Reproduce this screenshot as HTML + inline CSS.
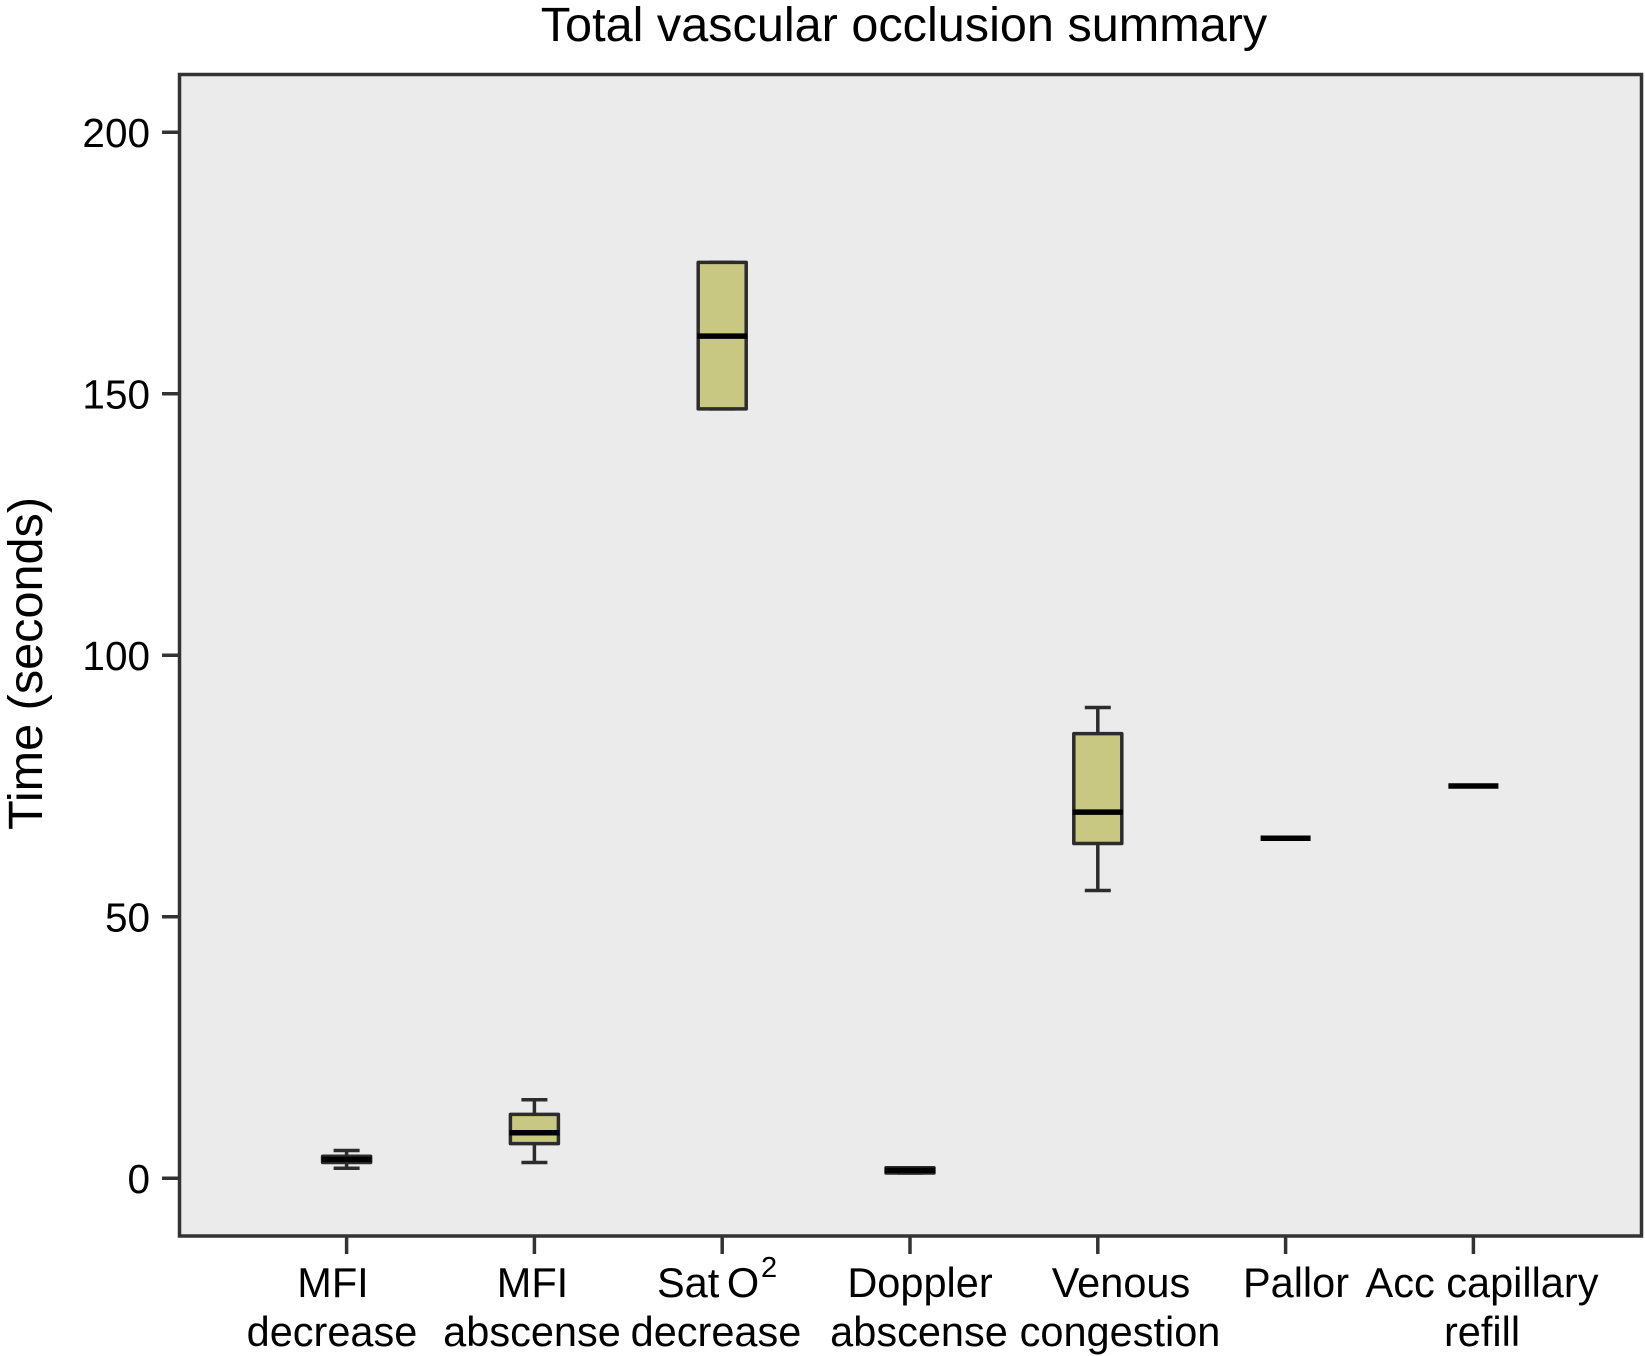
<!DOCTYPE html>
<html lang="en">
<head>
<meta charset="utf-8">
<title>Total vascular occlusion summary</title>
<style>
html,body{margin:0;padding:0;background:#fff;}
svg{display:block;font-family:"Liberation Sans",Arial,sans-serif;fill:#000;}
text{fill:#000;}
</style>
</head>
<body>
<svg id="chart" xmlns="http://www.w3.org/2000/svg" width="1645" height="1356" viewBox="0 0 1645 1356">
  <rect x="0" y="0" width="1645" height="1356" fill="#ffffff"/>
  <rect x="179.5" y="74.5" width="1462" height="1161.5" fill="#ebebeb" stroke="#333333" stroke-width="3.5"/>
  <text x="904" y="41" font-size="48.6" text-anchor="middle">Total vascular occlusion summary</text>
  <text transform="translate(42 663.5) rotate(-90)" font-size="48.6" text-anchor="middle">Time (seconds)</text>
  <g id="y-axis"></g>
  <g id="x-axis"></g>
  <g id="x-labels" font-size="41.5" text-anchor="middle">
    <text><tspan x="333" y="1297">MFI</tspan><tspan x="332" y="1346">decrease</tspan></text>
    <text><tspan x="532.5" y="1297">MFI</tspan><tspan x="532" y="1346">abscense</tspan></text>
    <text x="657" y="1297" text-anchor="start" word-spacing="-4">Sat O<tspan x="761" y="1277" font-size="29">2</tspan></text>
    <text x="716" y="1346">decrease</text>
    <text><tspan x="920" y="1297">Doppler</tspan><tspan x="919" y="1346">abscense</tspan></text>
    <text><tspan x="1121" y="1297">Venous</tspan><tspan x="1120" y="1346">congestion</tspan></text>
    <text x="1296" y="1297">Pallor</text>
    <text><tspan x="1482" y="1297">Acc capillary</tspan><tspan x="1482" y="1346">refill</tspan></text>
  </g>
  <g id="marks"></g>
</svg>
<script>
const categories = ["MFI decrease", "MFI abscense", "Sat O2 decrease", "Doppler abscense", "Venous congestion", "Pallor", "Acc capillary refill"];
const yTickValues = [0, 50, 100, 150, 200];
const whiskerLow = [1.9, 3, 147.1, 1, 55, 65, 75];
const quartile1 = [3, 6.6, 147.1, 1, 64, 65, 75];
const medians = [3.6, 8.7, 161, 1.5, 70, 65, 75];
const quartile3 = [4.2, 12.2, 175.1, 2, 85, 65, 75];
const whiskerHigh = [5.3, 15, 175.1, 2, 90, 65, 75];

const SVG_NS = "http://www.w3.org/2000/svg";
function yScale(v) { return 1178.2 - v * 5.23; }
function xScale(i) { return 346.6 + i * 187.8; }
function slug(s) { return s.toLowerCase().replace(/\s+/g, "-"); }
function make(tag, attrs, parent) {
  const el = document.createElementNS(SVG_NS, tag);
  for (const k in attrs) el.setAttribute(k, attrs[k]);
  parent.appendChild(el);
  return el;
}

const yAxis = document.getElementById("y-axis");
yTickValues.forEach(function (v) {
  const tick = make("line", {x1: 162, x2: 179, y1: yScale(v), y2: yScale(v), stroke: "#333333", "stroke-width": 3.5}, yAxis);
  
  
  const label = make("text", {x: 150, y: yScale(v) + 15, "font-size": 40.5, "text-anchor": "end"}, yAxis);
  
  
  label.textContent = String(v);
});

const xAxis = document.getElementById("x-axis");
categories.forEach(function (c, i) {
  const tick = make("line", {x1: xScale(i), x2: xScale(i), y1: 1236, y2: 1254, stroke: "#333333", "stroke-width": 3.5}, xAxis);
  
  
});

const marks = document.getElementById("marks");
const BOX_HALF = 24;
const CAP_HALF = 13;
categories.forEach(function (c, i) {
  const cx = xScale(i);
  const g = make("g", {}, marks);
  
  
  const hasSpread = whiskerHigh[i] > whiskerLow[i];
  if (hasSpread) {
    const stem = make("line", {x1: cx, x2: cx, y1: yScale(whiskerHigh[i]), y2: yScale(whiskerLow[i]), stroke: "#2c2c2c", "stroke-width": 3.5}, g);
    
    
    const capHigh = make("line", {x1: cx - CAP_HALF, x2: cx + CAP_HALF, y1: yScale(whiskerHigh[i]), y2: yScale(whiskerHigh[i]), stroke: "#2c2c2c", "stroke-width": 3.5}, g);
    
    
    const capLow = make("line", {x1: cx - CAP_HALF, x2: cx + CAP_HALF, y1: yScale(whiskerLow[i]), y2: yScale(whiskerLow[i]), stroke: "#2c2c2c", "stroke-width": 3.5}, g);
    
    
    const box = make("rect", {x: cx - BOX_HALF, y: yScale(quartile3[i]), width: BOX_HALF * 2, height: yScale(quartile1[i]) - yScale(quartile3[i]), fill: "#c8c883", stroke: "#2c2c2c", "stroke-width": 3.5, "stroke-linejoin": "round"}, g);
    
    
  }
  const med = make("line", {x1: cx - BOX_HALF - 1, x2: cx + BOX_HALF + 1, y1: yScale(medians[i]), y2: yScale(medians[i]), stroke: "#000000", "stroke-width": 5.5}, g);
  
  
});
</script>
</body>
</html>
